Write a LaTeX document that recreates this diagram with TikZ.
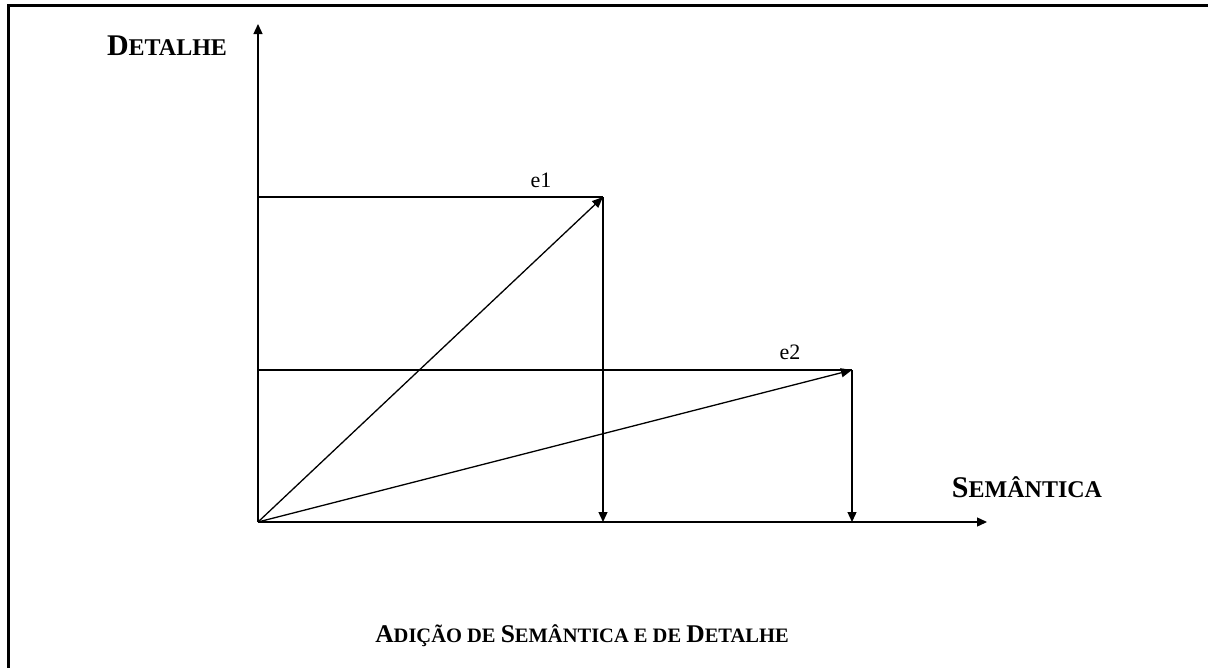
\documentclass[tikz,border=0pt]{standalone}
\usepackage{fontspec}
\setmainfont{Liberation Serif}
\usetikzlibrary{arrows.meta}
\newcommand\bigc[1]{{\fontsize{30}{36}\selectfont #1}}
\newcommand\smc[1]{{\fontsize{24}{28}\selectfont #1}}
\newcommand\capbig[1]{{\fontsize{25.5}{30}\selectfont #1}}
\newcommand\capsmall[1]{{\fontsize{20.5}{24}\selectfont #1}}
\tikzset{
  axis/.style={line width=1.3pt, -{Triangle[length=10pt,width=9pt]}},
  vec/.style={line width=1.3pt, -{Triangle[length=11pt,width=9pt]}},
  plain/.style={line width=1.3pt},
  frame/.style={line width=3pt},
  lbl/.style={anchor=base, inner sep=0pt, font=\bfseries},
  elbl/.style={anchor=base, inner sep=0pt, font=\fontsize{22}{26}\selectfont}
}
\begin{document}
\begin{tikzpicture}[x=1pt,y=-1pt]
\useasboundingbox (0,0) rectangle (1208,667);
\draw[frame] (8.5,668) -- (8.5,5.5) -- (1209,5.5);
\coordinate (O) at (258,522);
\coordinate (ytip) at (258,24);
\coordinate (xtip) at (987,522);
\coordinate (P1) at (603,197);
\coordinate (H1) at (258,197);
\coordinate (F1) at (603,522);
\coordinate (P2) at (852,370);
\coordinate (H2) at (258,370);
\coordinate (F2) at (852,522);
\draw[axis] (O) -- (ytip);
\draw[axis] (O) -- (xtip);
\draw[plain] (H1) -- (P1);
\draw[plain] (H2) -- (P2);
\draw[vec] (O) -- (P1);
\draw[vec] (O) -- (P2);
\draw[axis] (P1) -- (F1);
\draw[axis] (P2) -- (F2);
\node[elbl] (e1) at (541,187) {e1};
\node[elbl] (e2) at (790,359) {e2};
\node[lbl] (ylab) at (167,55) {\bigc{D}\smc{ETALHE}};
\node[lbl] (xlab) at (1027,497) {\bigc{S}\smc{EMÂNTICA}};
\node[lbl] (cap) at (582,642) {\capbig{A}\capsmall{DIÇÃO DE }\capbig{S}\capsmall{EMÂNTICA E DE }\capbig{D}\capsmall{ETALHE}};
\end{tikzpicture}
\end{document}
